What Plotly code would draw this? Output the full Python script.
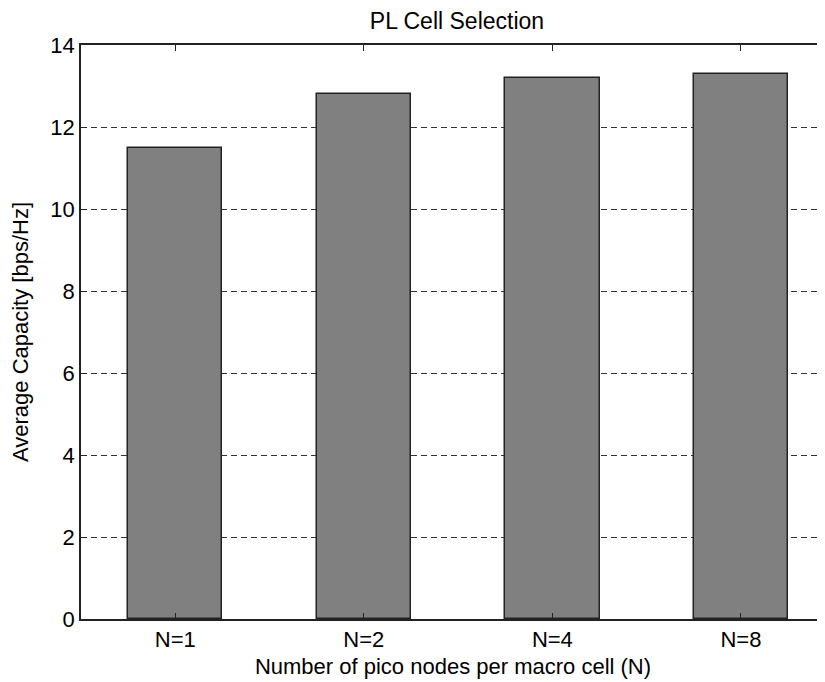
import plotly.graph_objects as go

categories = ["N=1", "N=2", "N=4", "N=8"]
capacity = [11.5, 12.8, 13.2, 13.3]
y_ticks = [0, 2, 4, 6, 8, 10, 12, 14]

x_pos = list(range(1, len(categories) + 1))
FONT = "Liberation Sans, Arial, sans-serif"
FS = 22

W, H = 817, 674  # page body has an 8px margin

fig = go.Figure()
fig.add_trace(go.Bar(
    x=x_pos, y=capacity, width=0.5,
    marker=dict(color="#808080", line=dict(color="#222222", width=1.5)),
    showlegend=False,
))

fig.update_layout(
    width=W, height=H,
    margin=dict(l=73, r=0, t=37, b=63, autoexpand=False),
    paper_bgcolor="white", plot_bgcolor="white",
    title=dict(text="PL Cell Selection", x=449 / W, xanchor="center",
               xref="container", yref="container", y=1 - 13 / H, yanchor="middle",
               automargin=False,
               font=dict(family=FONT, size=23, color="black")),
    font=dict(family=FONT, color="black"),
    bargap=0,
)
fig.update_xaxes(
    range=[0.5, 4.446], tickvals=x_pos, ticktext=categories,
    showline=True, linecolor="#222222", linewidth=1.5, mirror="ticks",
    ticks="inside", ticklen=6, tickcolor="#222222",
    showgrid=False, zeroline=False, automargin=False,
    tickfont=dict(size=FS),
    title=dict(text="Number of pico nodes per macro cell (N)", font=dict(size=FS), standoff=7),
)
fig.update_yaxes(
    range=[0, 14], tickvals=y_ticks,
    showline=True, linecolor="#222222", linewidth=1.5, mirror=False,
    ticks="inside", ticklen=6, tickcolor="#222222",
    showgrid=True, gridcolor="#333333", gridwidth=1.2, griddash="6px,4px",
    zeroline=False, automargin=False,
    tickfont=dict(size=FS),
    title=dict(text="Average Capacity [bps/Hz]", font=dict(size=FS), standoff=20),
)

fig.write_html("out.html")
